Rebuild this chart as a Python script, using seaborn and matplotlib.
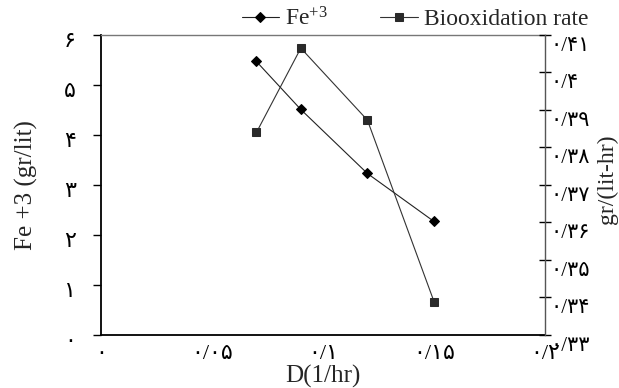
import matplotlib
matplotlib.use("Agg")
import matplotlib.pyplot as plt
import matplotlib.transforms as mtransforms
import seaborn as sns
import pandas as pd

sns.set_style("white")
plt.rcParams['font.family'] = ['Liberation Serif', 'DejaVu Sans']
plt.rcParams['mathtext.fontset'] = 'custom'
plt.rcParams['mathtext.rm'] = 'Liberation Serif'
plt.rcParams['mathtext.it'] = 'Liberation Serif:italic'

# Dilution rate D (1/hr)
dilution = [0.07, 0.09, 0.12, 0.15]
# Ferric iron concentration (gr/lit)
fe3 = [5.47, 4.51, 3.23, 2.27]
# Biooxidation rate (gr/(lit-hr))
bio_rate = [0.384, 0.4065, 0.3873, 0.3389]

x_ticks = [0, 0.05, 0.1, 0.15, 0.2]
x_labels = ['۰', '۰/۰۵', '۰/۱', '۰/۱۵', '۰/۲']
left_ticks = [0, 1, 2, 3, 4, 5, 6]
left_labels = ['۰', '۱', '۲', '۳', '۴', '۵', '۶']
right_ticks = [0.33, 0.34, 0.35, 0.36, 0.37, 0.38, 0.39, 0.40, 0.41]
right_labels = ['۰/۳۳', '۰/۳۴', '۰/۳۵', '۰/۳۶', '۰/۳۷', '۰/۳۸', '۰/۳۹', '۰/۴', '۰/۴۱']

df = pd.DataFrame({'D': dilution, 'Fe': fe3, 'Bio': bio_rate})

fig = plt.figure(figsize=(6.19, 3.88), dpi=100)
ax = fig.add_axes([0.1632, 0.1366, 0.7173, 0.7732])
ax2 = ax.twinx()

sns.lineplot(data=df, x='D', y='Fe', ax=ax, color='#222222', lw=0.8,
             marker='D', markersize=5.5, markerfacecolor='black',
             markeredgecolor='black', label=r'Fe$^{\mathrm{+3}}$', legend=False)
sns.lineplot(data=df, x='D', y='Bio', ax=ax2, color='#333333', lw=0.8,
             marker='s', markersize=6, markerfacecolor='#2a2a2a',
             markeredgecolor='#2a2a2a', label='Biooxidation rate', legend=False)

ax.set_xlim(0, 0.2)
ax.set_ylim(0, 6)
ax2.set_ylim(0.33, 0.41)

ax.set_xticks(x_ticks)
ax.set_xticklabels(x_labels, fontsize=16)
ax.set_yticks(left_ticks)
ax.set_yticklabels(left_labels, fontsize=16)
ax2.set_yticks(right_ticks)
ax2.set_yticklabels(right_labels, fontsize=15)

ax.tick_params(axis='x', direction='out', length=6, width=1, pad=1, colors='black')
ax.tick_params(axis='y', direction='out', length=6, width=1, pad=12, colors='black')
ax2.tick_params(axis='y', direction='inout', length=8, width=1, pad=0, colors='black')

# Persian digits sit a little below their tick marks
down_left = mtransforms.ScaledTranslation(0, -5 / 100, fig.dpi_scale_trans)
down_right = mtransforms.ScaledTranslation(0, -9 / 100, fig.dpi_scale_trans)
for lab in ax.get_yticklabels():
    lab.set_transform(lab.get_transform() + down_left)
for lab in ax2.get_yticklabels():
    lab.set_transform(lab.get_transform() + down_right)

for side in ['left', 'bottom']:
    ax.spines[side].set_color('black')
    ax.spines[side].set_linewidth(1.3)
ax.spines['top'].set_color('#777777')
ax.spines['top'].set_linewidth(1.0)
ax.spines['right'].set_visible(False)
for side in ['left', 'top', 'bottom']:
    ax2.spines[side].set_visible(False)
ax2.spines['right'].set_color('#555555')
ax2.spines['right'].set_linewidth(1.0)

ax.set_xlabel('D(1/hr)', fontsize=18)
ax.xaxis.set_label_coords(0.5, -0.10)
ax.set_ylabel('Fe +3 (gr/lit)', fontsize=18)
ax.yaxis.set_label_coords(-0.143, 0.5)
ax2.set_ylabel('gr/(lit-hr)', fontsize=17)
ax2.yaxis.set_label_coords(1.117, 0.52)

h1, l1 = ax.get_legend_handles_labels()
h2, l2 = ax2.get_legend_handles_labels()
fig.legend(h1 + h2, l1 + l2, loc='upper left', bbox_to_anchor=(0.375, 1.006),
           ncol=2, frameon=False, fontsize=17, handlelength=1.6,
           handletextpad=0.25, columnspacing=2.2, borderaxespad=0)

fig.savefig('out.png', dpi=100)
